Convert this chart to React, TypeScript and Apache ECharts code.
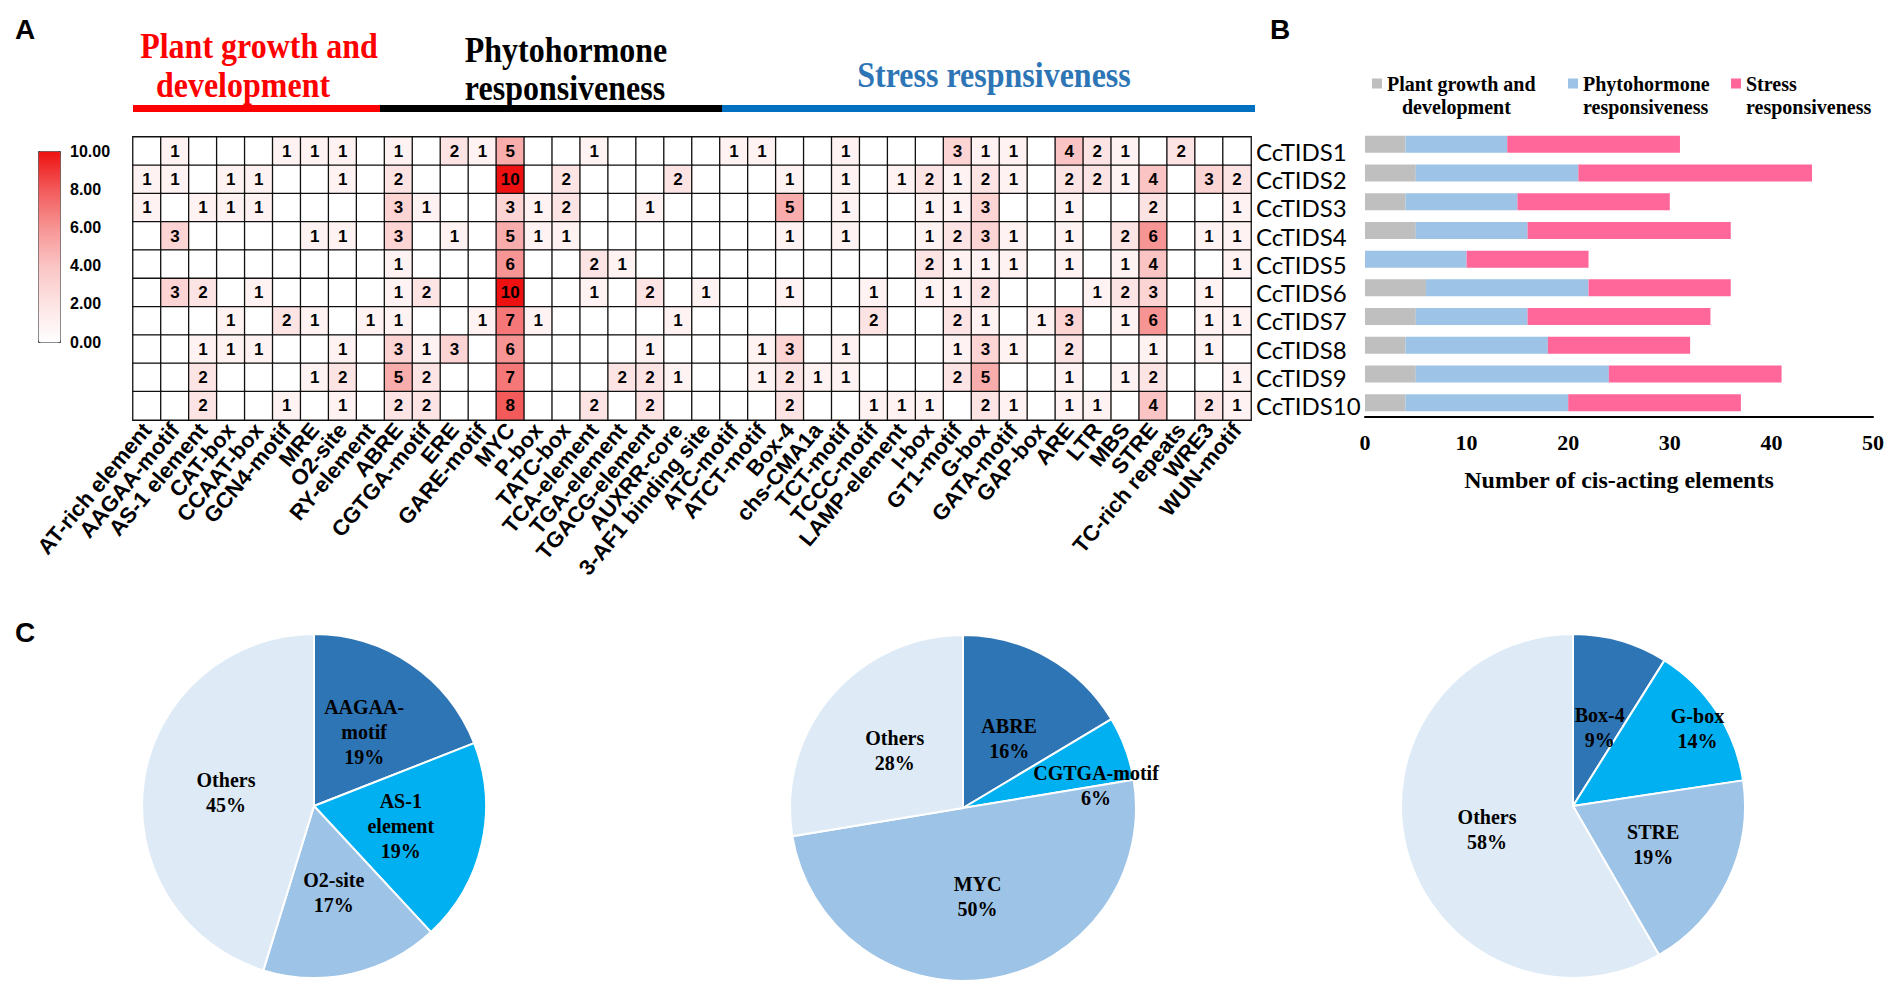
import React, { useEffect, useRef } from "react";
import * as echarts from "echarts";

const elements = [
  "AT-rich element", "AAGAA-motif", "AS-1 element", "CAT-box", "CCAAT-box", "GCN4-motif", "MRE", "O2-site", "RY-element", "ABRE",
  "CGTGA-motif", "ERE", "GARE-motif", "MYC", "P-box", "TATC-box", "TCA-element", "TGA-element", "TGACG-element", "AUXRR-core",
  "3-AF1 binding site", "ATC-motif", "ATCT-motif", "Box-4", "chs-CMA1a", "TCT-motif", "TCCC-motif", "LAMP-element", "I-box", "GT1-motif",
  "G-box", "GATA-motif", "GAP-box", "ARE", "LTR", "MBS", "STRE", "TC-rich repeats", "WRE3", "WUN-motif",
];

const genes = ["CcTIDS1", "CcTIDS2", "CcTIDS3", "CcTIDS4", "CcTIDS5", "CcTIDS6", "CcTIDS7", "CcTIDS8", "CcTIDS9", "CcTIDS10"];

const countsTIDS1 = [0,1,0,0,0,1,1,1,0,1, 0,2,1,5,0,0,1,0,0,0, 0,1,1,0,0,1,0,0,0,3, 1,1,0,4,2,1,0,2,0,0];
const countsTIDS2 = [1,1,0,1,1,0,0,1,0,2, 0,0,0,10,0,2,0,0,0,2, 0,0,0,1,0,1,0,1,2,1, 2,1,0,2,2,1,4,0,3,2];
const countsTIDS3 = [1,0,1,1,1,0,0,0,0,3, 1,0,0,3,1,2,0,0,1,0, 0,0,0,5,0,1,0,0,1,1, 3,0,0,1,0,0,2,0,0,1];
const countsTIDS4 = [0,3,0,0,0,0,1,1,0,3, 0,1,0,5,1,1,0,0,0,0, 0,0,0,1,0,1,0,0,1,2, 3,1,0,1,0,2,6,0,1,1];
const countsTIDS5 = [0,0,0,0,0,0,0,0,0,1, 0,0,0,6,0,0,2,1,0,0, 0,0,0,0,0,0,0,0,2,1, 1,1,0,1,0,1,4,0,0,1];
const countsTIDS6 = [0,3,2,0,1,0,0,0,0,1, 2,0,0,10,0,0,1,0,2,0, 1,0,0,1,0,0,1,0,1,1, 2,0,0,0,1,2,3,0,1,0];
const countsTIDS7 = [0,0,0,1,0,2,1,0,1,1, 0,0,1,7,1,0,0,0,0,1, 0,0,0,0,0,0,2,0,0,2, 1,0,1,3,0,1,6,0,1,1];
const countsTIDS8 = [0,0,1,1,1,0,0,1,0,3, 1,3,0,6,0,0,0,0,1,0, 0,0,1,3,0,1,0,0,0,1, 3,1,0,2,0,0,1,0,1,0];
const countsTIDS9 = [0,0,2,0,0,0,1,2,0,5, 2,0,0,7,0,0,0,2,2,1, 0,0,1,2,1,1,0,0,0,2, 5,0,0,1,0,1,2,0,0,1];
const countsTIDS10 = [0,0,2,0,0,1,0,1,0,2, 2,0,0,8,0,0,2,0,2,0, 0,0,0,2,0,0,1,1,1,0, 2,1,0,1,1,0,4,0,2,1];
const countRows = [countsTIDS1, countsTIDS2, countsTIDS3, countsTIDS4, countsTIDS5, countsTIDS6, countsTIDS7, countsTIDS8, countsTIDS9, countsTIDS10];

const categoryNames = ["Plant growth and development", "Phytohormone responsiveness", "Stress responsiveness"];
const legendTexts = ["Plant growth and\n   development", "Phytohormone\nresponsiveness", "Stress\nresponsiveness"];
const plantCounts = [4, 5, 4, 5, 0, 6, 5, 4, 5, 4];
const phytoCounts = [10, 16, 11, 11, 10, 16, 11, 14, 19, 16];
const stressCounts = [17, 23, 15, 20, 12, 14, 18, 14, 17, 17];

const colorbarTicks = [0, 2, 4, 6, 8, 10];

const pie1Names = ["AAGAA-\nmotif", "AS-1\nelement", "O2-site", "Others"];
const pie1Values = [8, 8, 7, 19];
const pie2Names = ["ABRE", "CGTGA-motif", "MYC", "Others"];
const pie2Values = [22, 8, 67, 37];
const pie3Names = ["Box-4", "G-box", "STRE", "Others"];
const pie3Values = [15, 23, 32, 98];

const SERIF = '"Liberation Serif", "Times New Roman", serif';
const SANS = '"Liberation Sans", Arial, sans-serif';

const pieColors = ["#2e75b6", "#00b0f0", "#9dc3e6", "#deebf7"];
const barColors = ["#bfbfbf", "#9dc3e6", "#ff6699"];

// square at the top of a tall icon box, so that it lines up with the first text line
const LEGEND_ICON = "path://M0,0L10,0L10,10L0,10Z M0,33L0.01,33L0.01,33.01L0,33.01Z";

function makePie(names: string[], values: number[], center: number[], radius: number, offsets: number[][]) {
  return {
    type: "pie",
    center,
    radius,
    startAngle: 90,
    clockwise: true,
    percentPrecision: 0,
    silent: true,
    emphasis: { disabled: true },
    itemStyle: { borderColor: "#ffffff", borderWidth: 2 },
    label: {
      show: true,
      position: "inside",
      formatter: "{b}\n{d}%",
      color: "#000",
      fontFamily: SERIF,
      fontWeight: "bold",
      fontSize: 20,
      lineHeight: 25,
      align: "center",
    },
    labelLine: { show: false },
    labelLayout: (p: any) => ({ dx: offsets[p.dataIndex][0], dy: offsets[p.dataIndex][1] }),
    data: names.map((n, i) => ({ name: n, value: values[i], itemStyle: { color: pieColors[i] } })),
  };
}

export default function App() {
  const ref = useRef<HTMLDivElement>(null);
  useEffect(() => {
    if (!ref.current) return;
    const chart = echarts.init(ref.current, null, { renderer: "svg" });
    const heatData: number[][] = [];
    countRows.forEach((row, gi) => row.forEach((v, ei) => heatData.push([ei, gi, v])));

    const legendCommon = {
      top: 67,
      itemWidth: 10,
      itemHeight: 33,
      itemGap: 0,
      selectedMode: false,
      icon: LEGEND_ICON,
      formatter: (name: string) => legendTexts[categoryNames.indexOf(name)],
      textStyle: {
        fontFamily: SERIF,
        fontWeight: "bold",
        fontSize: 20,
        lineHeight: 23,
        color: "#000",
      },
    };

    const headerText = (text: string, x: number, y: number, fill: string) => ({
      type: "text",
      x,
      y,
      scaleY: 1.12,
      style: { text, align: "center", verticalAlign: "middle", font: `bold 32px ${SERIF}`, fill },
    });

    const option: any = {
      animation: false,
      backgroundColor: "#ffffff",
      grid: [
        { left: 133, top: 137, width: 1118, height: 283 },
        { left: 1365, top: 130, width: 508, height: 287 },
        { left: 38, top: 151, width: 22, height: 191 },
      ],
      xAxis: [
        {
          type: "category",
          gridIndex: 0,
          data: elements,
          position: "bottom",
          axisLine: { show: false },
          axisTick: { show: false },
          splitLine: { show: false },
          axisLabel: {
            interval: 0,
            rotate: 50,
            margin: 6,
            color: "#000",
            fontFamily: SANS,
            fontWeight: "bold",
            fontSize: 22,
          },
        },
        {
          type: "value",
          gridIndex: 1,
          min: 0,
          max: 50,
          interval: 10,
          axisLine: { show: true, lineStyle: { color: "#000", width: 2 } },
          axisTick: { show: false },
          splitLine: { show: false },
          axisLabel: { color: "#000", fontFamily: SERIF, fontWeight: "bold", fontSize: 22, margin: 14 },
          name: "Number of cis-acting elements",
          nameLocation: "middle",
          nameGap: 51,
          nameTextStyle: { color: "#000", fontFamily: SERIF, fontWeight: "bold", fontSize: 24 },
        },
        { type: "value", gridIndex: 2, min: 0, max: 1, show: false },
      ],
      yAxis: [
        {
          type: "category",
          gridIndex: 0,
          data: genes,
          inverse: true,
          position: "right",
          axisLine: { show: false },
          axisTick: { show: false },
          splitLine: { show: false },
          axisLabel: { interval: 0, color: "#000", fontFamily: "Lato", fontSize: 24, margin: 5 },
        },
        {
          type: "category",
          gridIndex: 1,
          data: genes,
          inverse: true,
          axisLine: { show: false },
          axisTick: { show: false },
          axisLabel: { show: false },
        },
        {
          type: "value",
          gridIndex: 2,
          min: colorbarTicks[0],
          max: colorbarTicks[colorbarTicks.length - 1],
          interval: colorbarTicks[1] - colorbarTicks[0],
          position: "right",
          axisLine: { show: false },
          axisTick: { show: false },
          splitLine: { show: false },
          axisLabel: {
            color: "#000",
            fontFamily: SANS,
            fontWeight: "bold",
            fontSize: 16,
            margin: 10,
            formatter: (v: number) => v.toFixed(2),
          },
        },
      ],
      visualMap: {
        type: "continuous",
        seriesIndex: 0,
        min: 0,
        max: 10,
        orient: "vertical",
        left: 38,
        top: 151,
        itemWidth: 22,
        itemHeight: 191,
        padding: 0,
        calculable: false,
        hoverLink: false,
        borderColor: "#444",
        borderWidth: 1,
        inRange: { color: ["#ffffff", "#fde4e4", "#fbc4c4", "#f79494", "#f35a5a", "#ee1111"] },
      },
      legend: [
        { ...legendCommon, left: 1367, data: [categoryNames[0]] },
        { ...legendCommon, left: 1563, data: [categoryNames[1]] },
        { ...legendCommon, left: 1726, data: [categoryNames[2]] },
      ],
      series: [
        {
          type: "heatmap",
          xAxisIndex: 0,
          yAxisIndex: 0,
          data: heatData,
          silent: true,
          emphasis: { disabled: true },
          itemStyle: { borderColor: "#111", borderWidth: 1.3 },
          label: {
            show: true,
            color: "#000",
            fontFamily: SANS,
            fontWeight: "bold",
            fontSize: 17,
            formatter: (p: any) => (p.value[2] ? String(p.value[2]) : ""),
          },
        },
        ...[plantCounts, phytoCounts, stressCounts].map((vals, i) => ({
          type: "bar",
          name: categoryNames[i],
          xAxisIndex: 1,
          yAxisIndex: 1,
          stack: "total",
          barWidth: 17,
          silent: true,
          itemStyle: { color: barColors[i] },
          data: vals,
        })),
        makePie(pie1Names, pie1Values, [314, 806], 172, [[0, 0], [0, 0], [0, 0], [0, 0]]),
        makePie(pie2Names, pie2Values, [963, 808], 173, [[2, 8], [49, 8], [0, 0], [0, 0]]),
        makePie(pie3Names, pie3Values, [1573, 806], 172, [[2, 7], [50, -29], [0, 0], [0, 0]]),
      ],
      graphic: [
        { type: "text", x: 25, y: 29, style: { text: "A", align: "center", verticalAlign: "middle", font: `bold 28px ${SANS}`, fill: "#000" } },
        { type: "text", x: 1280, y: 29, style: { text: "B", align: "center", verticalAlign: "middle", font: `bold 28px ${SANS}`, fill: "#000" } },
        { type: "text", x: 25, y: 632, style: { text: "C", align: "center", verticalAlign: "middle", font: `bold 28px ${SANS}`, fill: "#000" } },
        headerText("Plant growth and", 259, 46, "#ff0000"),
        headerText("development", 243, 85, "#ff0000"),
        headerText("Phytohormone", 566, 50, "#000000"),
        headerText("responsiveness", 565, 88, "#000000"),
        headerText("Stress respnsiveness", 994, 75, "#2e75b6"),
        { type: "rect", shape: { x: 133, y: 105, width: 247, height: 7 }, style: { fill: "#ff0000" } },
        { type: "rect", shape: { x: 380, y: 105, width: 342, height: 7 }, style: { fill: "#000000" } },
        { type: "rect", shape: { x: 722, y: 105, width: 533, height: 7 }, style: { fill: "#0070c0" } },
      ],
    };
    chart.setOption(option);
    return () => chart.dispose();
  }, []);
  return <div ref={ref} style={{ position: "absolute", left: 0, top: 0, width: "1892px", height: "992px" }} />;
}
